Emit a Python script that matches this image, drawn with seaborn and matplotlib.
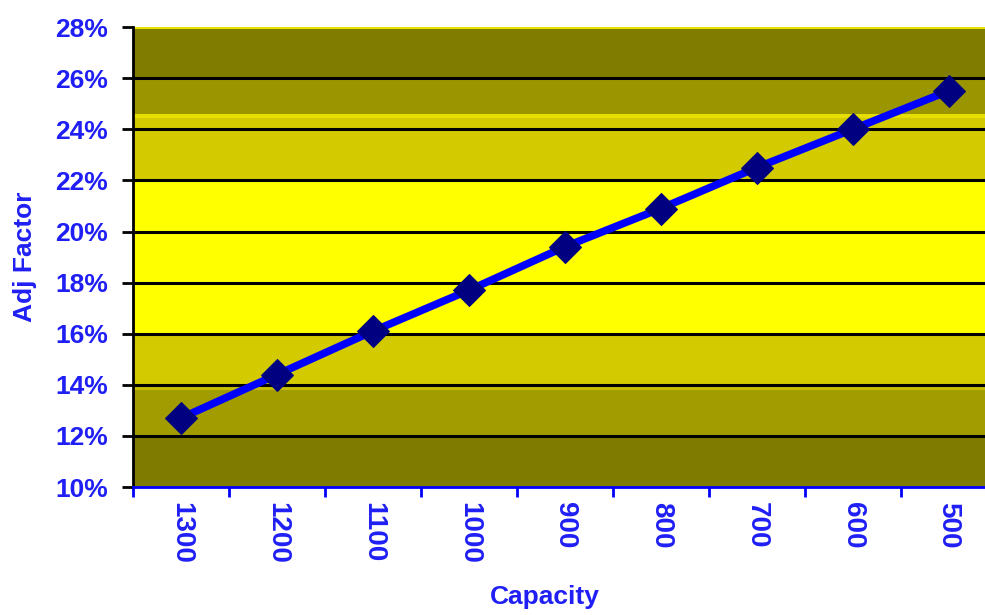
import matplotlib
matplotlib.use("Agg")
import matplotlib.pyplot as plt
from matplotlib.ticker import FixedLocator, FuncFormatter
import seaborn as sns
import pandas as pd

# Capacity categories (left to right) and the adjustment factor in percent
capacity = ["1300", "1200", "1100", "1000", "900", "800", "700", "600", "500"]
adj_factor = [12.7, 14.4, 16.1, 17.7, 19.4, 20.9, 22.5, 24.0, 25.5]
y_ticks = [10, 12, 14, 16, 18, 20, 22, 24, 26, 28]

df = pd.DataFrame({"Capacity": capacity, "Adj Factor": adj_factor})

sns.set_theme(style="white")
plt.rcParams["font.family"] = ["Liberation Sans", "DejaVu Sans"]
plt.rcParams["font.weight"] = "bold"

text_blue = "#1f1ff5"

fig = plt.figure(figsize=(9.85, 6.15), dpi=100)
ax = fig.add_axes([0.135, 0.208, 0.865, 0.748])

# horizontal colour bands of the plot background
bands = [
    (10, 12, "#7f7b00"),
    (12, 14, "#a29c00"),
    (13.8, 14, "#c4bc00"),
    (14, 16, "#d3cb00"),
    (16, 22, "#ffff00"),
    (22, 24.45, "#d3cb00"),
    (24.45, 24.6, "#e6de00"),
    (24.6, 26, "#9b9600"),
    (26, 28, "#807c00"),
    (27.92, 28, "#e8e000"),
]
for lo, hi, col in bands:
    ax.axhspan(lo, hi, color=col, lw=0, zorder=0)

# horizontal gridlines
for t in y_ticks[1:-1]:
    ax.axhline(t, color="black", lw=2.2, zorder=1)

sns.lineplot(
    data=df, x="Capacity", y="Adj Factor", ax=ax, sort=False,
    color="#0000ff", lw=5.5, marker="D", markersize=16,
    markerfacecolor="#000080", markeredgecolor="#000080", zorder=3,
)

ax.set_ylim(10, 28)
ax.set_xlim(-0.5, 8.38)

ax.yaxis.set_major_locator(FixedLocator(y_ticks))
ax.yaxis.set_major_formatter(FuncFormatter(lambda v, p: f"{v:.0f}%"))

# category labels centred, tick marks between categories
ax.set_xticks(range(len(capacity)))
ax.set_xticklabels(capacity, rotation=-90, fontsize=20, fontweight="bold",
                   color=text_blue, va="top", ha="center")
ax.tick_params(axis="x", which="major", length=0, pad=11)
ax.set_xticks([i - 0.5 for i in range(len(capacity))], minor=True)
ax.tick_params(axis="x", which="minor", length=7, width=2,
               color="#0000ff", direction="out", bottom=True)

ax.tick_params(axis="y", length=8, width=2, color="black", direction="out",
               left=True, pad=10, labelsize=19, labelcolor=text_blue)
for lab in ax.get_yticklabels():
    lab.set_fontweight("bold")

for side in ["top", "right"]:
    ax.spines[side].set_visible(False)
ax.spines["left"].set_color("black")
ax.spines["left"].set_linewidth(2)
ax.spines["bottom"].set_color("#0000ff")
ax.spines["bottom"].set_linewidth(2)
ax.grid(False)

ax.set_xlabel("Capacity", fontsize=19, fontweight="bold", color=text_blue)
ax.xaxis.set_label_coords(0.483, -0.212)
ax.set_ylabel("Adj Factor", fontsize=19, fontweight="bold", color=text_blue)
ax.yaxis.set_label_coords(-0.113, 0.5)

fig.savefig("out.png", dpi=100, facecolor="white")
